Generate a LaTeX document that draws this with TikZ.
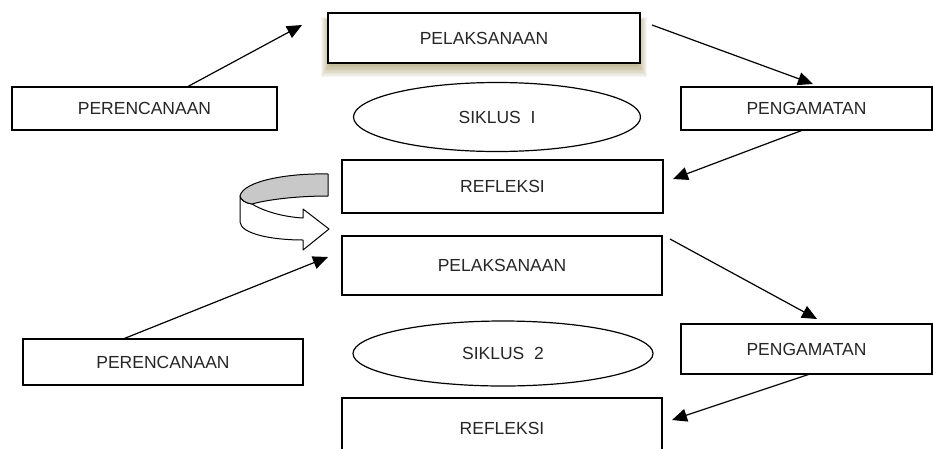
\documentclass[tikz,border=0pt]{standalone}
\usepackage{fontspec}
\setmainfont{Liberation Sans}
\usetikzlibrary{arrows.meta,calc,shapes.geometric}
\definecolor{shadowc}{RGB}{140,125,60}
\definecolor{ribbon}{RGB}{200,200,200}
\begin{document}
\begin{tikzpicture}[x=1pt,y=-1pt,
  box/.style={draw, line width=1.2pt, fill=white, rectangle, inner sep=0pt, outer sep=0pt,
    font=\fontsize{17.5}{20}\selectfont, text=black!85},
  oval/.style={draw, line width=1.2pt, fill=white, ellipse, inner sep=0pt, outer sep=0pt,
    font=\fontsize{17.5}{20}\selectfont, text=black!85},
  arr/.style={line width=1.2pt, -{Triangle[length=15pt,width=13pt]}},
  rib/.style={line width=1pt, line join=round}]
\clip (0,0) rectangle (933,448);
\fill[white] (0,0) rectangle (933,448);

% shadow under first PELAKSANAAN
\foreach \i in {1,...,10}
  \fill[shadowc, opacity=0.07] (331-\i, 22-\i*0.5) rectangle (637+\i, 63+\i*1.4);

% nodes
\node[box, minimum width=312, minimum height=50] (l1) at (484,38) {PELAKSANAAN};
\node[box, minimum width=265, minimum height=43] (p1) at (144.5,108.5) {PERENCANAAN};
\node[oval, minimum width=287, minimum height=69] (s1) at (497,117) {SIKLUS\ \ I};
\node[box, minimum width=251, minimum height=43] (g1) at (806.5,108.5) {PENGAMATAN};
\node[box, minimum width=321, minimum height=53] (r1) at (502.5,186.5) {REFLEKSI};
\node[box, minimum width=320, minimum height=59] (l2) at (502,265.5) {PELAKSANAAN};
\node[box, minimum width=280, minimum height=46] (p2) at (163,362) {PERENCANAAN};
\node[oval, minimum width=300, minimum height=65] (s2) at (503,353.5) {SIKLUS\ \ 2};
\node[box, minimum width=251, minimum height=50] (g2) at (806.5,349) {PENGAMATAN};
\node[box, minimum width=320, minimum height=60] (r2) at (502,428) {REFLEKSI};

% arrow tips
\coordinate (t1) at (302,25);
\coordinate (t2) at (813,84);
\coordinate (t3) at (673,179);
\coordinate (t4) at (328,257);
\coordinate (t5) at (817,319);
\coordinate (t6) at (672,420);

\draw[arr] ($(p1.north)+(42.5,0)$) -- (t1);
\draw[arr] ($(l1.north east)+(12,12)$) -- (t2);
\draw[arr] ($(g1.south)+(-3.5,0)$) -- (t3);
\draw[arr] ($(p2.north)+(-40,0)$) -- (t4);
\draw[arr] ($(l2.north east)+(8,3)$) -- (t5);
\draw[arr] ($(g2.south)+(3.5,0)$) -- (t6);

% U-turn ribbon arrow from REFLEKSI to PELAKSANAAN
\coordinate (ra) at ($(r1.west)+(-14,-12.5)$);
\coordinate (rb) at ($(l2.west)+(-13,-36.5)$);
\filldraw[rib, fill=white]
  (240,196) .. controls (241,200) and (245,203) .. (252,204)
  .. controls (265,212) and (285,217) .. (303,218)
  -- (303,209) -- (rb) -- (303,250) -- (303,240)
  .. controls (272,240) and (241,234) .. (240,222) -- cycle;
\filldraw[rib, fill=ribbon]
  (ra) .. controls (288,173) and (243,181) .. (240,196)
  .. controls (241,200) and (245,203) .. (252,204)
  .. controls (270,199) and (300,196) .. (328,196) -- cycle;
\end{tikzpicture}
\end{document}
